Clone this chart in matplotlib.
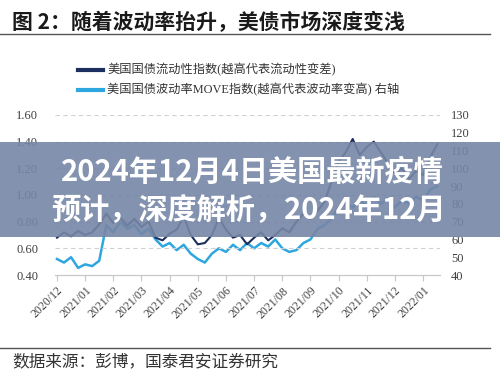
import matplotlib.pyplot as plt
from matplotlib.lines import Line2D
from matplotlib.patches import Rectangle

CJK = ['Noto Sans CJK SC', 'DejaVu Sans']
SERIF_CJK = ['Liberation Serif', 'Noto Sans CJK SC']

# months since 2020/12, about one point a week
months = [i * 0.25 for i in range(55)]

# liquidity index (left axis)
liquidity = [0.68, 0.72, 0.69, 0.73, 0.70, 0.72, 0.78, 0.86, 0.79, 0.83,
             0.77, 0.82, 0.76, 0.80, 0.68, 0.66, 0.71, 0.74, 0.84, 0.70,
             0.63, 0.64, 0.70, 0.83, 0.74, 0.68, 0.70, 0.63, 0.68, 0.72,
             0.66, 0.70, 0.75, 0.72, 0.80, 0.86, 0.82, 0.88, 0.95, 1.10,
             1.25, 1.32, 1.42, 1.30, 1.36, 1.40, 1.32, 1.24, 1.16, 1.20,
             1.12, 1.18, 1.15, 1.28, 1.38]

# MOVE index (right axis)
move = [49, 47, 50, 44, 46, 45, 48, 68, 64, 70,
        66, 68, 63, 66, 60, 56, 58, 54, 57, 52,
        49, 47, 52, 55, 53, 57, 54, 58, 55, 58,
        56, 60, 55, 53, 54, 58, 60, 66, 68, 72,
        78, 80, 78, 82, 79, 84, 80, 83, 78, 82,
        80, 84, 82, 88, 90]

tick_labels = ['2020/12', '2021/01', '2021/02', '2021/03', '2021/04', '2021/05',
               '2021/06', '2021/07', '2021/08', '2021/09', '2021/10', '2021/11',
               '2021/12', '2022/01']

left_ticks = [0.40, 0.60, 0.80, 1.00, 1.20, 1.40, 1.60]
right_ticks = [40, 50, 60, 70, 80, 90, 100, 110, 120, 130]

legend_labels = ['美国国债流动性指数(越高代表流动性变差)',
                 '美国国债波动率MOVE指数(越高代表波动率变高) 右轴']

dark = '#1c2f5e'
light = '#2ea6de'

fig = plt.figure(figsize=(5, 3.8), dpi=100)
ax = fig.add_axes([0.11, 0.2763, 0.77, 0.4211])
ax2 = ax.twinx()

ax.plot(months, liquidity, color=dark, lw=1.5, zorder=3)
ax2.plot(months, move, color=light, lw=1.8, zorder=2)
ax.set_zorder(ax2.get_zorder() + 1)
ax.patch.set_visible(False)

ax.set_xlim(-0.07, 13.6)
ax.set_ylim(0.40, 1.60)
ax2.set_ylim(40, 130)

ax.set_yticks(left_ticks)
ax.set_yticklabels([f'{v:.2f}' for v in left_ticks])
ax2.set_yticks(right_ticks)
ax.set_xticks(range(len(tick_labels)))
ax.set_xticklabels(tick_labels, rotation=45, ha='right', rotation_mode='anchor')

for v in left_ticks[1:]:
    ax.axhline(v, color='#d0d0d0', lw=0.8, ls=(0, (4, 3)), zorder=0)

for a in (ax, ax2):
    for s in ('top', 'left', 'right'):
        a.spines[s].set_visible(False)
    a.spines['bottom'].set_color('#c8c8c8')
ax.tick_params(axis='y', length=0, pad=12, labelsize=9, labelcolor='#404040')
ax2.tick_params(axis='y', length=0, pad=8, labelsize=9, labelcolor='#404040')
ax.tick_params(axis='x', length=4, color='#c8c8c8', pad=3, labelsize=8.5, labelcolor='#404040')
for lab in ax.get_yticklabels() + ax2.get_yticklabels() + ax.get_xticklabels():
    lab.set_family('Liberation Serif')

# header, legend, footer
fig.text(0.024, 0.942, '图 2：随着波动率抬升，美债市场深度变浅', family=CJK,
         fontsize=15, weight='bold', color='#1a1a1a', va='center')
fig.add_artist(Line2D([0, 0.98], [0.9105, 0.9105], color='#555555', lw=1))

for y, c, lab in [(0.816, dark, legend_labels[0]), (0.763, light, legend_labels[1])]:
    fig.add_artist(Line2D([0.156, 0.206], [y, y], color=c, lw=3))
    fig.text(0.214, y, lab, family=SERIF_CJK, fontsize=8.8, color='#333333', va='center')

fig.add_artist(Line2D([0, 0.98], [0.0842, 0.0842], color='#555555', lw=1))
fig.text(0.024, 0.047, '数据来源：彭博，国泰君安证券研究', family=CJK,
         fontsize=12, color='#333333', va='center')

# overlay banner
fig.add_artist(Rectangle((0, 0.3763), 1, 0.25, transform=fig.transFigure,
                         facecolor='#7686a6', alpha=0.9, edgecolor='none', zorder=10))
fig.text(0.504, 0.547, '2024年12月4日美国最新疫情', family=CJK, fontsize=21,
         weight='bold', color='white', ha='center', va='center', zorder=11)
fig.text(0.498, 0.445, '预计，深度解析，2024年12月', family=CJK, fontsize=21,
         weight='bold', color='white', ha='center', va='center', zorder=11)

fig.savefig('out.png', dpi=100)
